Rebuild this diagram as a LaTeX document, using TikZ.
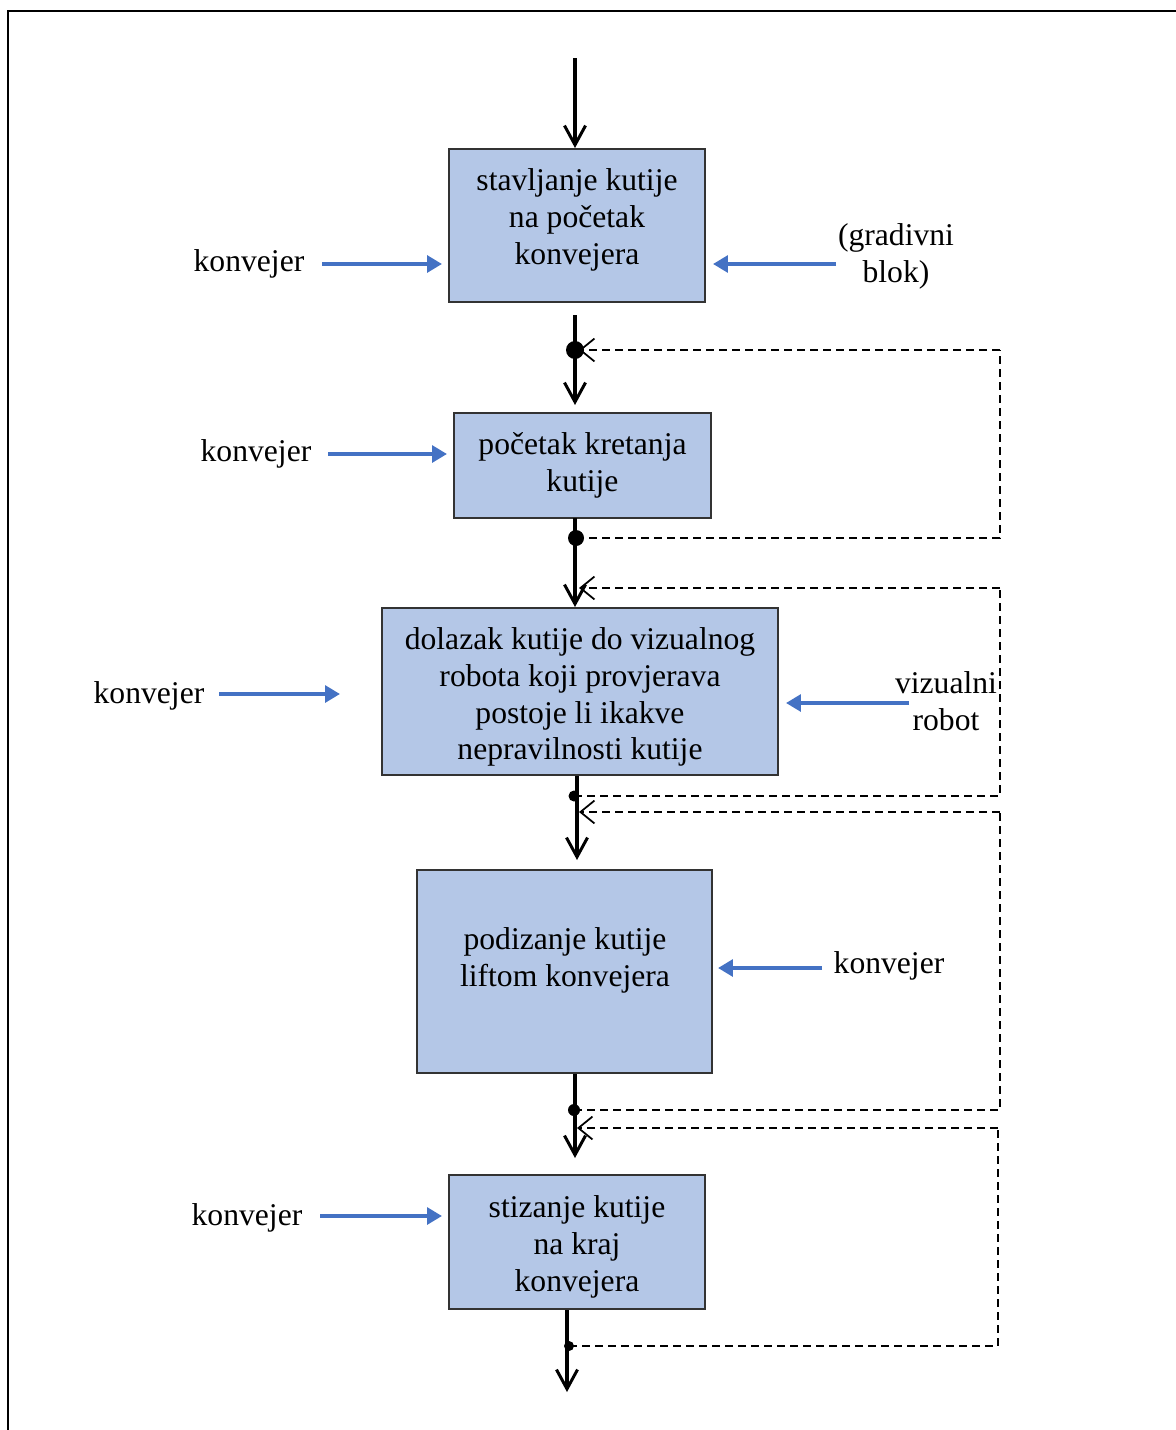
\documentclass[tikz,border=0pt]{standalone}
\usepackage{fontspec}
\setmainfont{Liberation Serif}
\usetikzlibrary{arrows.meta}
\definecolor{boxfill}{HTML}{B4C7E7}
\definecolor{feedblue}{HTML}{4472C4}
\tikzset{
  txt/.style={font=\fontsize{18}{21}\selectfont, inner sep=0pt, align=center},
  stage/.style={draw=black!80, line width=0.6pt, fill=boxfill, inner sep=0pt},
  flow/.style={line width=1.8pt, -{Straight Barb[length=11pt,width=12pt,line width=1.7pt]}},
  loopline/.style={line width=1.0pt, dash pattern=on 4.6pt off 2.8pt,
    -{Straight Barb[length=8pt,width=13pt,line width=1.0pt]}},
  loopback/.style={line width=1.0pt, dash pattern=on 4.6pt off 2.8pt},
  feed/.style={draw=feedblue, line width=2.3pt, -{Triangle[length=8.5pt,width=9.5pt]}},
  junction/.style={fill=black}
}
\begin{document}
\begin{tikzpicture}[x=0.02cm,y=-0.02cm]
\useasboundingbox (0,0) rectangle (1176,1430);
% frame: top and left rules only
\draw[line width=1.1pt] (8,1430) -- (8,11) -- (1176,11);

% process stages
\node[stage, minimum width=256*0.02cm, minimum height=153*0.02cm] (b1) at (577,225.5) {};
\node[stage, minimum width=257*0.02cm, minimum height=105*0.02cm] (b2) at (582.5,465.5) {};
\node[stage, minimum width=396*0.02cm, minimum height=167*0.02cm] (b3) at (580,691.5) {};
\node[stage, minimum width=295*0.02cm, minimum height=203*0.02cm] (b4) at (564.5,971.5) {};
\node[stage, minimum width=256*0.02cm, minimum height=134*0.02cm] (b5) at (577,1242) {};

\node[txt] (b1t) at (577,219.5) {stavljanje kutije\\na početak\\konvejera};
\node[txt] (b2t) at (582.5,465.5) {početak kretanja\\kutije};
\node[txt] (b3t) at (580,697) {dolazak kutije do vizualnog\\robota koji provjerava\\postoje li ikakve\\nepravilnosti kutije};
\node[txt] (b4t) at (565,960) {podizanje kutije\\liftom konvejera};
\node[txt] (b5t) at (577,1246.5) {stizanje kutije\\na kraj\\konvejera};

% main flow points
\coordinate (in)  at (575,58);
\coordinate (e0)  at (575,148);
\coordinate (s1)  at (575,315);
\coordinate (e1)  at (575,405);
\coordinate (s2)  at (575,518);
\coordinate (e2)  at (575,607);
\coordinate (s3)  at (577,776);
\coordinate (e3)  at (577,860);
\coordinate (s4)  at (575,1074);
\coordinate (e4)  at (575,1158);
\coordinate (s5)  at (567,1310);
\coordinate (out) at (567,1392);

\draw[flow] (in) -- (e0);
\draw[flow] (s1) -- (e1);
\draw[flow] (s2) -- (e2);
\draw[flow] (s3) -- (e3);
\draw[flow] (s4) -- (e4);
\draw[flow] (s5) -- (out);

% junctions
\coordinate (d1) at (575,350);
\coordinate (d2) at (576,538);
\coordinate (d3) at (574,796);
\coordinate (d4) at (574,1110);
\coordinate (d5) at (569,1346);
\fill[junction] (d1) circle (9);
\fill[junction] (d2) circle (8);
\fill[junction] (d3) circle (5.5);
\fill[junction] (d4) circle (6);
\fill[junction] (d5) circle (5);

% feedback loops
\coordinate (t1) at (579,350);  \coordinate (r1) at (1000,350);
\coordinate (t2) at (579,588);  \coordinate (r2) at (1000,588);
\coordinate (t3) at (579,812);  \coordinate (r3) at (1000,812);
\coordinate (t4) at (577,1128); \coordinate (r4) at (998,1128);
\draw[loopback] (d2) -| (r1);
\draw[loopline] (r1) -- (t1);
\draw[loopback] (d3) -| (r2);
\draw[loopline] (r2) -- (t2);
\draw[loopback] (d4) -| (r3);
\draw[loopline] (r3) -- (t3);
\draw[loopback] (d5) -| (r4);
\draw[loopline] (r4) -- (t4);

% resources
\node[txt] (k1) at (249,264) {konvejer};
\node[txt] (g1) at (896,256.5) {(gradivni\\blok)};
\node[txt] (k2) at (256,454) {konvejer};
\node[txt] (k3) at (149,696) {konvejer};
\node[txt] (v1) at (946,701.5) {vizualni\\robot};
\node[txt] (k4) at (889,966) {konvejer};
\node[txt] (k5) at (247,1218) {konvejer};

\coordinate (k1a) at (322,264);  \coordinate (k1b) at (442,264);
\coordinate (g1a) at (836,264);  \coordinate (g1b) at (713,264);
\coordinate (k2a) at (328,454);  \coordinate (k2b) at (447,454);
\coordinate (k3a) at (219,694);  \coordinate (k3b) at (340,694);
\coordinate (v1a) at (909,703);  \coordinate (v1b) at (786,703);
\coordinate (k4a) at (822,968);  \coordinate (k4b) at (718,968);
\coordinate (k5a) at (320,1216); \coordinate (k5b) at (442,1216);
\draw[feed] (k1a) -- (k1b);
\draw[feed] (g1a) -- (g1b);
\draw[feed] (k2a) -- (k2b);
\draw[feed] (k3a) -- (k3b);
\draw[feed] (v1a) -- (v1b);
\draw[feed] (k4a) -- (k4b);
\draw[feed] (k5a) -- (k5b);
\end{tikzpicture}
\end{document}
